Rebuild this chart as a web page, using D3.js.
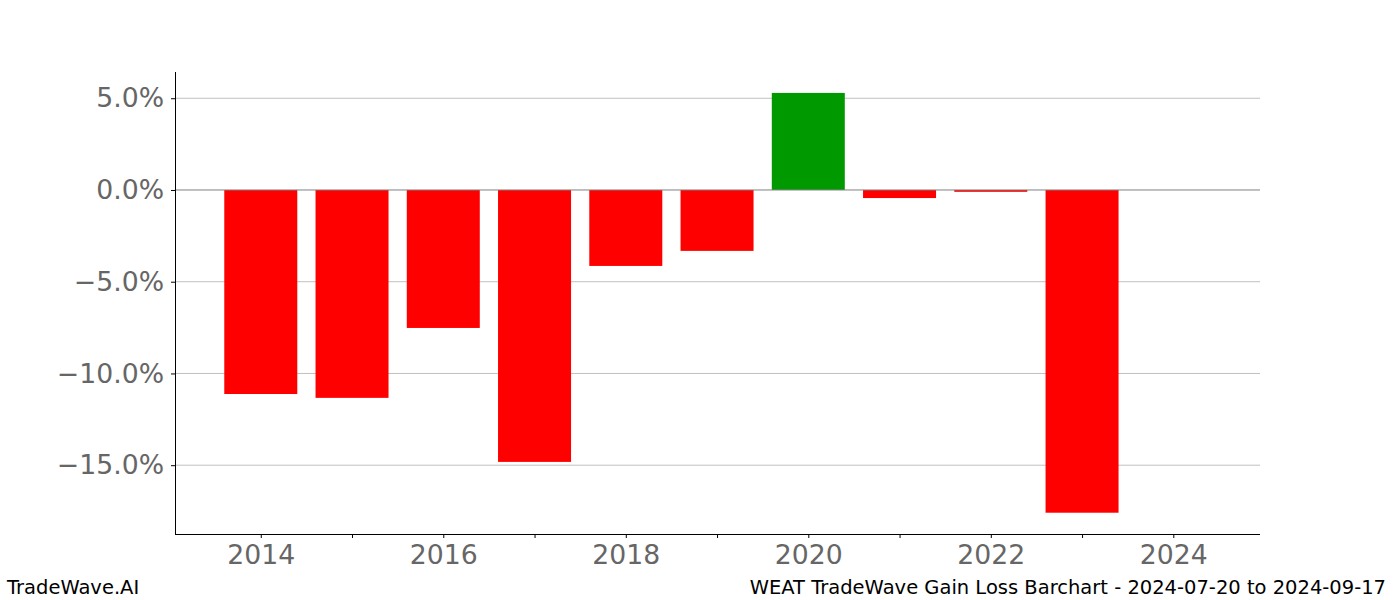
<!DOCTYPE html>
<html lang="en">
<head>
<meta charset="utf-8" />
<title>WEAT Gain Loss Barchart</title>
<script src="https://cdn.jsdelivr.net/npm/d3@7"></script>
<style>
    body { margin: 0; background: #fff; }
    svg text { font-family: "DejaVu Sans", sans-serif; }
    .axis path, .axis line { stroke: #000; }
    .axis text { fill: #666; font-size: 26.7px; }
</style>
</head>
<body>
<script>

    // yearly gain / loss in percent
    let years = [2014, 2015, 2016, 2017, 2018, 2019, 2020, 2021, 2022, 2023, 2024];
    let gains = [-11.12, -11.33, -7.52, -14.82, -4.14, -3.32, 5.29, -0.44, -0.1, -17.59, 0];
    let yTicks = [-15, -10, -5, 0, 5];
    let xTickLabels = [2014, 2016, 2018, 2020, 2022, 2024];

    let W = 1400, H = 600;
    let margin = { top: 72, bottom: 66, left: 175, right: 140 };

    let svg = d3.select('body').append('svg')
        .attr('width', W)
        .attr('height', H);

    let x = d3.scaleLinear()
        .domain([2013.06, 2024.95])
        .range([margin.left, W - margin.right]);

    let y = d3.scaleLinear()
        .domain([-18.75, 6.43])
        .range([H - margin.bottom, margin.top]);

    // grid lines
    svg.append('g')
        .selectAll('line')
        .data(yTicks.filter(d => d != 0))
        .enter().append('line')
        .attr('x1', margin.left)
        .attr('x2', W - margin.right)
        .attr('y1', d => y(d))
        .attr('y2', d => y(d))
        .style('stroke', '#c0c0c0')
        .style('stroke-width', 1);

    // bars
    let barW = x(2014.8) - x(2014);
    svg.append('g')
        .selectAll('rect')
        .data(years.map((d, i) => ({ year: d, v: gains[i] })))
        .enter().append('rect')
        .attr('x', d => x(d.year) - barW / 2)
        .attr('width', barW)
        .attr('y', d => y(Math.max(0, d.v)))
        .attr('height', d => Math.abs(y(d.v) - y(0)))
        .style('fill', d => d.v >= 0 ? '#009900' : '#ff0000');

    // zero line
    svg.append('line')
        .attr('x1', margin.left)
        .attr('x2', W - margin.right)
        .attr('y1', y(0))
        .attr('y2', y(0))
        .style('stroke', '#808080')
        .style('stroke-width', 1);

    let yAxis = d3.axisLeft(y)
        .tickValues(yTicks)
        .tickSize(4)
        .tickPadding(7)
        .tickFormat(d => (d < 0 ? '\u2212' : '') + Math.abs(d).toFixed(1) + '%');

    svg.append('g')
        .attr('class', 'axis')
        .attr('transform', `translate(${margin.left},0)`)
        .call(yAxis)
        .call(g => g.select('.domain').attr('d', `M0.5,${margin.top}V${H - margin.bottom}`));

    let xAxis = d3.axisBottom(x)
        .tickValues(years)
        .tickSize(4)
        .tickPadding(7)
        .tickFormat(d => xTickLabels.includes(d) ? d : '');

    svg.append('g')
        .attr('class', 'axis')
        .attr('transform', `translate(0,${H - margin.bottom})`)
        .call(xAxis)
        .call(g => g.select('.domain').attr('d', `M${margin.left},0.5H${W - margin.right}`));

    // footer
    svg.append('text')
        .attr('x', 7)
        .attr('y', 594)
        .style('font-size', '19.5px')
        .style('fill', '#000')
        .text('TradeWave.AI');

    svg.append('text')
        .attr('x', 1386)
        .attr('y', 594)
        .attr('text-anchor', 'end')
        .style('font-size', '19.5px')
        .style('fill', '#000')
        .text('WEAT TradeWave Gain Loss Barchart - 2024-07-20 to 2024-09-17');

</script>
</body>
</html>
